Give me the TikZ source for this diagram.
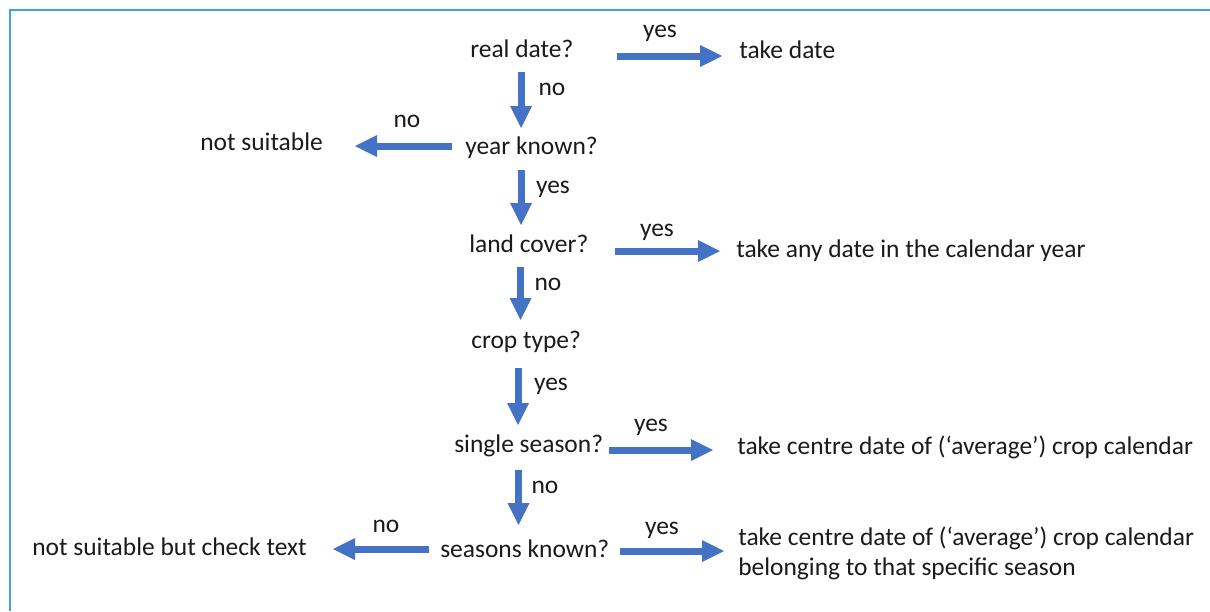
\documentclass[tikz,border=0pt]{standalone}
\usepackage{fontspec}
\setmainfont{Carlito}
\usetikzlibrary{arrows.meta}
\definecolor{arrowblue}{HTML}{4472C4}
\definecolor{frameblue}{HTML}{3EA2E5}
\definecolor{txtc}{HTML}{1A1A1A}
\begin{document}
\begin{tikzpicture}[x=0.75pt,y=-0.75pt,
  txt/.style={font=\fontsize{19.1}{22.5}\selectfont, text=txtc, inner sep=0pt, anchor=base west},
  lbl/.style={font=\fontsize{19.1}{22.5}\selectfont, text=txtc, inner sep=0pt, anchor=base},
  fat/.style={draw=arrowblue, line width=5.25pt, -{Triangle[length=16.5pt,width=16.5pt,line width=0pt]}},
  frameline/.style={draw=frameblue, line width=2pt}]
\useasboundingbox (0,0) rectangle (1210,611);
\draw[frameline] (10,611) -- (10,10) -- (1210,10);
% question and result nodes
\node[txt] (rd) at (470,57) {real date?};
\node[txt] (td) at (739,58) {take date};
\node[txt] (yk) at (465,154) {year known?};
\node[txt] (ns) at (200,150) {not suitable};
\node[txt] (lc) at (469,252) {land cover?};
\node[txt] (ad) at (736,257) {take any date in the calendar year};
\node[txt] (ct) at (471,348) {crop type?};
\node[txt] (ss) at (454,452) {single season?};
\node[txt] (cc) at (737,454) {take centre date of (‘average’) crop calendar};
\node[txt] (sk) at (440,557) {seasons known?};
\node[txt] (nc) at (32,555) {not suitable but check text};
\node[txt, align=left] (cs) at (738,575) {take centre date of (‘average’) crop calendar\\belonging to that specific season};
% connectors
\draw[fat] ([shift={(147,-1)}]rd.base west) -- ([shift={(-17,-2)}]td.base west);
\draw[fat] ([shift={(51,15)}]rd.base west) -- ([shift={(56,-26)}]yk.base west);
\draw[fat] ([shift={(-13,-8)}]yk.base west) -- ([shift={(155,-4)}]ns.base west);
\draw[fat] ([shift={(56,16)}]yk.base west) -- ([shift={(52,-27)}]lc.base west);
\draw[fat] ([shift={(146,-1)}]lc.base west) -- ([shift={(-16,-6)}]ad.base west);
\draw[fat] ([shift={(51.5,15)}]lc.base west) -- ([shift={(49.5,-28)}]ct.base west);
\draw[fat] ([shift={(47,20)}]ct.base west) -- ([shift={(64,-27)}]ss.base west);
\draw[fat] ([shift={(155,-2)}]ss.base west) -- ([shift={(-24,-4)}]cc.base west);
\draw[fat] ([shift={(64.5,18)}]ss.base west) -- ([shift={(78.5,-32)}]sk.base west);
\draw[fat] ([shift={(-11,-8)}]sk.base west) -- ([shift={(301,-6)}]nc.base west);
\draw[fat] ([shift={(180,-6)}]sk.base west) -- ([shift={(-14,-24)}]cs.base west);
% labels
\node[lbl] (l1) at (660,37) {yes};
\node[lbl] (l2) at (552,95) {no};
\node[lbl] (l3) at (407,127) {no};
\node[lbl] (l4) at (553,193) {yes};
\node[lbl] (l5) at (657,236) {yes};
\node[lbl] (l6) at (548,290) {no};
\node[lbl] (l7) at (551,390) {yes};
\node[lbl] (l8) at (651,431) {yes};
\node[lbl] (l9) at (545,493) {no};
\node[lbl] (l10) at (386,532) {no};
\node[lbl] (l11) at (662,534) {yes};
\end{tikzpicture}
\end{document}
